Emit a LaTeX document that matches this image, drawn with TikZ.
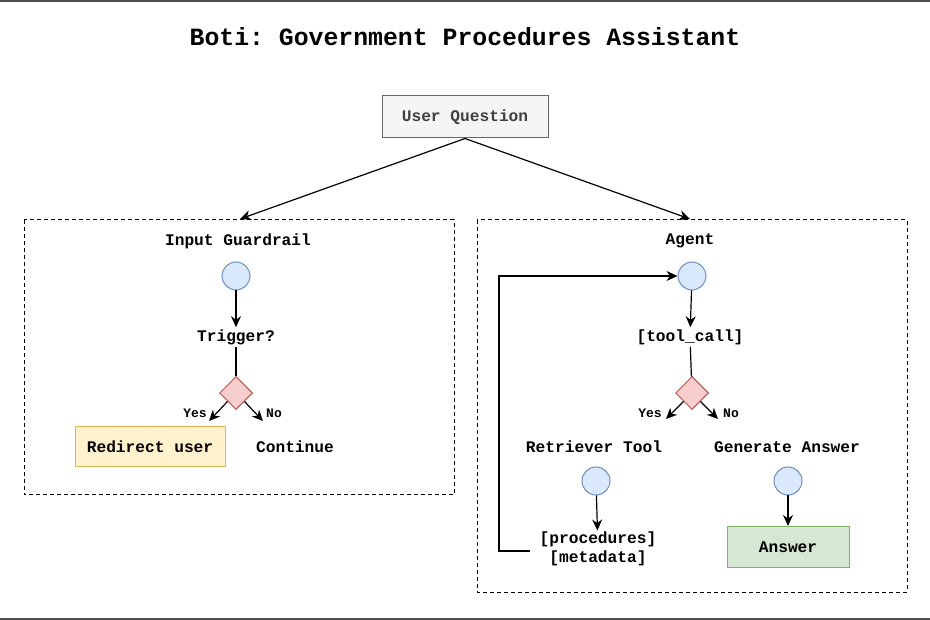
\documentclass[tikz,border=0pt]{standalone}
\usepackage{fontspec}
\setmonofont{Liberation Mono}
\usetikzlibrary{arrows.meta,shapes.geometric}
\definecolor{qfill}{HTML}{F5F5F5}
\definecolor{qdraw}{HTML}{666666}
\definecolor{cfill}{HTML}{DAE8FC}
\definecolor{cdraw}{HTML}{6C8EBF}
\definecolor{dfill}{HTML}{F8CECC}
\definecolor{ddraw}{HTML}{B85450}
\definecolor{yfill}{HTML}{FFF2CC}
\definecolor{ydraw}{HTML}{D6B656}
\definecolor{gfill}{HTML}{D5E8D4}
\definecolor{gdraw}{HTML}{82B366}
\tikzset{
txt/.style = {font=\ttfamily\bfseries\fontsize{16.2}{19.5}\selectfont, inner sep=2pt},
small/.style = {font=\ttfamily\bfseries\fontsize{13}{15}\selectfont, inner sep=1pt},
block/.style = {txt, draw, rectangle, line width=1pt},
state/.style = {draw=cdraw, fill=cfill, circle, minimum size=28pt, inner sep=0pt, line width=1pt},
choice/.style = {draw=ddraw, fill=dfill, diamond, minimum size=33pt, inner sep=0pt, line width=1pt},
group/.style = {draw, dash pattern=on 4pt off 3pt, line width=1pt},
arr/.style = {-{Stealth[length=11pt,width=10pt]}, line width=1.2pt},
tmp/.style = {coordinate}
}

\begin{document}
\begin{tikzpicture}[x=1pt,y=-1pt]
    \useasboundingbox (0,0) rectangle (930,620);
    \draw [line width=2pt, black!70] (0,1) -- (930,1);
    \draw [line width=2pt, black!70] (0,619) -- (930,619);

    \node [font=\ttfamily\bfseries\fontsize{24.8}{28}\selectfont] (title) at (465,37) {Boti: Government Procedures Assistant};

    \node [block, draw=qdraw, fill=qfill, text=black!75, minimum width=166pt, minimum height=42pt] (question) at (465,117) {User Question};

    % groups
    \draw [group] (24,220) rectangle (454,495);
    \draw [group] (477,220) rectangle (907,592);
    \coordinate (guardin) at (240,219);
    \coordinate (agentin) at (690,219);
    \draw [arr] (question.south) -- (guardin);
    \draw [arr] (question.south) -- (agentin);

    % input guardrail
    \node [txt] (guard) at (238,241) {Input Guardrail};
    \node [state] (c1) at (236,276) {};
    \node [txt] (trigger) at (236,337) {Trigger?};
    \node [choice] (d1) at (236,393) {};
    \coordinate (yes1) at (209,421);
    \coordinate (no1) at (263,421);
    \node [small] at (195,413) {Yes};
    \node [small] at (274,413) {No};
    \node [block, draw=ydraw, fill=yfill, minimum width=150pt, minimum height=40pt] (redirect) at (150,447) {Redirect user};
    \node [txt] (continue) at (295,447) {Continue};

    \draw [arr] (c1) -- (trigger);
    \draw [line width=1.2pt] (trigger) -- (d1);
    \draw [arr] (d1.225) -- (yes1);
    \draw [arr] (d1.315) -- (no1);

    % agent
    \node [txt] (agent) at (690,241) {Agent};
    \node [state] (c2) at (692,276) {};
    \node [txt] (toolcall) at (690,337) {[tool\_call]};
    \node [choice] (d2) at (692,393) {};
    \coordinate (yes2) at (666,419);
    \coordinate (no2) at (718,419);
    \node [small] at (650,413) {Yes};
    \node [small] at (731,413) {No};

    \node [txt] (retriever) at (594,447) {Retriever Tool};
    \node [state] (c3) at (596,481) {};
    \node [txt, align=center, inner sep=1pt] (proc) at (598,549) {[procedures]\\{}[metadata]};

    \node [txt] (generate) at (787,447) {Generate Answer};
    \node [state] (c4) at (788,481) {};
    \node [block, draw=gdraw, fill=gfill, minimum width=122pt, minimum height=41pt] (answer) at (788,547) {Answer};

    \draw [arr] (c2) -- (toolcall);
    \draw [line width=1.2pt] (toolcall) -- (d2);
    \draw [arr] (d2.225) -- (yes2);
    \draw [arr] (d2.315) -- (no2);
    \draw [arr] (c3) -- (proc);
    \draw [arr] (c4) -- (answer);

    % loop back
    \coordinate (procout) at (530,551);
    \coordinate (loop) at (499,551);
    \draw [arr] (procout) -- (loop) |- (c2.west);
\end{tikzpicture}
\end{document}
